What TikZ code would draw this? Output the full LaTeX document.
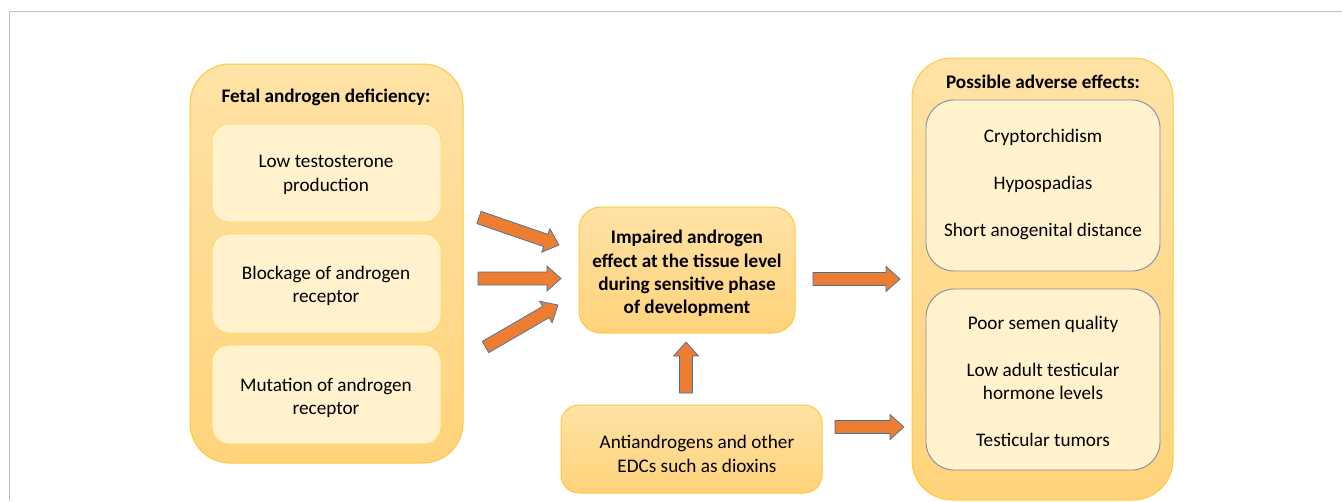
\documentclass[tikz,border=0pt]{standalone}
\usepackage{fontspec}
\setmainfont{Carlito}
\usetikzlibrary{calc}
\definecolor{outerA}{HTML}{FFE2A6}
\definecolor{outerB}{HTML}{FFD37A}
\definecolor{outerLine}{HTML}{FFC83D}
\definecolor{innerFill}{HTML}{FFF2CC}
\definecolor{innerLine}{HTML}{FFD966}
\definecolor{slateLine}{HTML}{7D8DA6}
\definecolor{arrFill}{HTML}{ED7D31}
\definecolor{arrLine}{HTML}{41719C}
\definecolor{frameGray}{HTML}{BFBFBF}
\newcommand{\blockarr}[2]{%
  \path[arrowshape] ($(#1)!6.5pt!90:(#2)$)
    -- ($($(#2)!14pt!(#1)$)!6.5pt!90:(#2)$)
    -- ($($(#2)!14pt!(#1)$)!12.5pt!90:(#2)$)
    -- (#2)
    -- ($($(#2)!14pt!(#1)$)!12.5pt!-90:(#2)$)
    -- ($($(#2)!14pt!(#1)$)!6.5pt!-90:(#2)$)
    -- ($(#1)!6.5pt!-90:(#2)$) -- cycle;}
\begin{document}
\begin{tikzpicture}[x=1pt,y=-1pt,
  outerbox/.style={draw=outerLine, line width=1pt, top color=outerA, bottom color=outerB},
  innerbox/.style={draw=innerLine, line width=0.8pt, fill=innerFill},
  slatebox/.style={draw=slateLine, line width=0.9pt, fill=innerFill},
  txt/.style={font=\fontsize{19.2}{23.3}\selectfont, align=center, inner sep=0pt},
  btxt/.style={txt, font=\fontsize{19.2}{23.3}\selectfont\bfseries},
  arrowshape/.style={fill=arrFill, draw=arrLine, line width=0.7pt, line join=miter}]
\useasboundingbox (0,0) rectangle (1342,501);
% frame
\draw[frameGray, line width=1.5pt] (1342,11.5) -- (9.5,11.5) -- (9.5,501);
% left column
\draw[outerbox, rounded corners=40] (190,64) rectangle (463,463);
\node[btxt] (ltitle) at (326,97.5) {Fetal androgen deficiency:};
\draw[innerbox, rounded corners=17] (212,124) rectangle (441,222);
\draw[innerbox, rounded corners=17] (212,234) rectangle (441,333);
\draw[innerbox, rounded corners=17] (212,345) rectangle (441,444);
\node[txt] (l1) at (326,175) {Low testosterone\\production};
\node[txt] (l2) at (326,286) {Blockage of androgen\\receptor};
\node[txt] (l3) at (326,398) {Mutation of androgen\\receptor};
% centre box
\draw[outerbox, rounded corners=22] (579,207) rectangle (795,333);
\node[btxt] (mid) at (687,273.5) {Impaired androgen\\effect at the tissue level\\during sensitive phase\\of development};
% bottom box
\draw[outerbox, rounded corners=18] (561,405) rectangle (822,493);
\node[txt] (edc) at (697,454) {Antiandrogens and other\\EDCs such as dioxins};
% right column
\draw[outerbox, rounded corners=40] (912,58) rectangle (1173,500);
\node[btxt] (rtitle) at (1043,81.5) {Possible adverse effects:};
\draw[slatebox, rounded corners=28] (926,100) rectangle (1160,271);
\draw[slatebox, rounded corners=28] (926,289) rectangle (1160,470);
\node[txt] (r1) at (1043,184.5) {Cryptorchidism\\[23.3pt]Hypospadias\\[23.3pt]Short anogenital distance};
\node[txt] (r2) at (1043,381.5) {Poor semen quality\\[23.3pt]Low adult testicular\\hormone levels\\[23.3pt]Testicular tumors};
% arrows
\coordinate (t1) at (479,217.5); \coordinate (h1) at (559,245);
\coordinate (t2) at (478,278.5); \coordinate (h2) at (561,278.5);
\coordinate (t3) at (485.5,347); \coordinate (h3) at (558,305);
\coordinate (t4) at (813,279);   \coordinate (h4) at (900,279);
\coordinate (t5) at (686,393);   \coordinate (h5) at (686,342);
\coordinate (t6) at (835,427);   \coordinate (h6) at (904,427);
\blockarr{t1}{h1}
\blockarr{t2}{h2}
\blockarr{t3}{h3}
\blockarr{t4}{h4}
\blockarr{t5}{h5}
\blockarr{t6}{h6}
\end{tikzpicture}
\end{document}
